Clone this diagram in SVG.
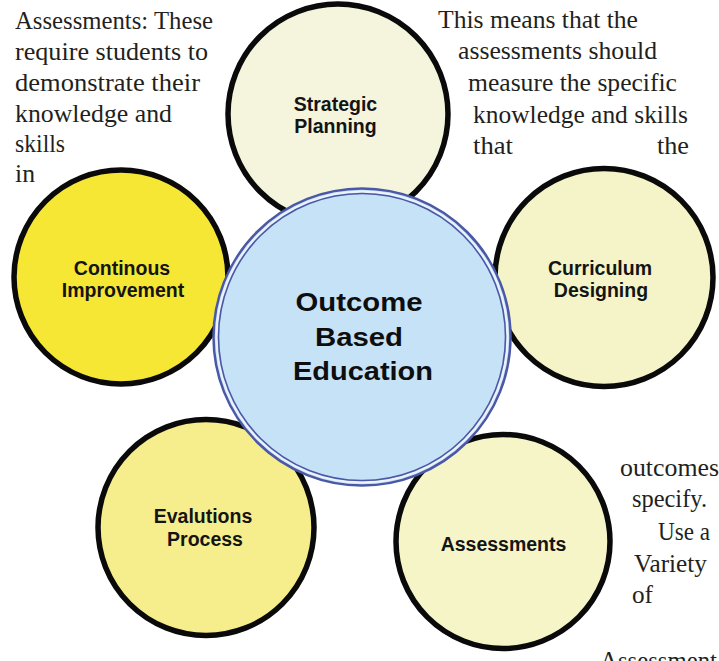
<svg xmlns="http://www.w3.org/2000/svg" width="719" height="661" viewBox="0 0 719 661">
  <style>
    .petal { stroke: #0a0a0a; stroke-width: 5.5; }
    .lbl { font-family: "Liberation Sans", Arial, sans-serif; font-weight: bold; font-size: 19.5px; fill: #141414; text-anchor: middle; }
    .core { font-family: "Liberation Sans", Arial, sans-serif; font-weight: bold; font-size: 26px; fill: #0e0e0e; text-anchor: middle; }
    .body { font-family: "Liberation Serif", "Times New Roman", serif; font-size: 25px; fill: #231f20; }
  </style>
  <rect width="719" height="661" fill="#ffffff"/>

  <g id="text-left" class="body">
    <text x="15" y="29" textLength="198" lengthAdjust="spacingAndGlyphs">Assessments: These</text>
    <text x="15" y="60" textLength="193" lengthAdjust="spacingAndGlyphs">require students to</text>
    <text x="15" y="91" textLength="185" lengthAdjust="spacingAndGlyphs">demonstrate their</text>
    <text x="15" y="122" textLength="157" lengthAdjust="spacingAndGlyphs">knowledge and</text>
    <text x="15" y="152" textLength="50" lengthAdjust="spacingAndGlyphs">skills</text>
    <text x="15" y="182" textLength="20" lengthAdjust="spacingAndGlyphs">in</text>
  </g>

  <g id="text-right" class="body">
    <text x="438" y="28" textLength="200" lengthAdjust="spacingAndGlyphs">This means that the</text>
    <text x="458" y="59" textLength="199" lengthAdjust="spacingAndGlyphs">assessments should</text>
    <text x="468" y="91" textLength="209" lengthAdjust="spacingAndGlyphs">measure the specific</text>
    <text x="473" y="123" textLength="215" lengthAdjust="spacingAndGlyphs">knowledge and skills</text>
    <text x="473" y="154" textLength="40" lengthAdjust="spacingAndGlyphs">that</text>
    <text x="657" y="154" textLength="32" lengthAdjust="spacingAndGlyphs">the</text>
  </g>

  <g id="text-bottom-right" class="body">
    <text x="620" y="476" textLength="99" lengthAdjust="spacingAndGlyphs">outcomes</text>
    <text x="632" y="507" textLength="75" lengthAdjust="spacingAndGlyphs">specify.</text>
    <text x="658" y="540" textLength="52" lengthAdjust="spacingAndGlyphs">Use a</text>
    <text x="634" y="572" textLength="73" lengthAdjust="spacingAndGlyphs">Variety</text>
    <text x="632" y="603" textLength="21" lengthAdjust="spacingAndGlyphs">of</text>
    <text x="600" y="669" textLength="117" lengthAdjust="spacingAndGlyphs">Assessment</text>
  </g>

  <g id="node-strategic-planning">
    <circle class="petal" cx="338" cy="114" r="110" fill="#f4f5dc"/>
    <text class="lbl" x="335.5" y="111">Strategic</text>
    <text class="lbl" x="335.5" y="133">Planning</text>
  </g>

  <g id="node-continous-improvement">
    <circle class="petal" cx="121" cy="277" r="107" fill="#f5e734"/>
    <text class="lbl" x="122" y="275">Continous</text>
    <text class="lbl" x="123" y="297">Improvement</text>
  </g>

  <g id="node-curriculum-designing">
    <circle class="petal" cx="604" cy="277.5" r="109" fill="#f5f4c9"/>
    <text class="lbl" x="600" y="275">Curriculum</text>
    <text class="lbl" x="601" y="297">Designing</text>
  </g>

  <g id="node-evalutions-process">
    <circle class="petal" cx="206" cy="527.5" r="108" fill="#f6ee8c"/>
    <text class="lbl" x="203" y="523">Evalutions</text>
    <text class="lbl" x="205" y="546">Process</text>
  </g>

  <g id="node-assessments">
    <circle class="petal" cx="503" cy="541.5" r="107" fill="#f6f5c7"/>
    <text class="lbl" x="503.5" y="551">Assessments</text>
  </g>

  <g id="node-outcome-based-education">
    <circle cx="362" cy="337" r="148.5" fill="#c6e2f6" stroke="#4a58a6" stroke-width="2.5"/>
    <circle cx="362" cy="337" r="145.5" fill="none" stroke="#eef3fb" stroke-width="2"/>
    <circle cx="362" cy="337" r="143.5" fill="none" stroke="#4a58a6" stroke-width="1.6"/>
    <text class="core" x="359" y="311" textLength="127" lengthAdjust="spacingAndGlyphs">Outcome</text>
    <text class="core" x="359" y="346" textLength="88" lengthAdjust="spacingAndGlyphs">Based</text>
    <text class="core" x="363" y="380" textLength="140" lengthAdjust="spacingAndGlyphs">Education</text>
  </g>

  <g id="connectors"></g>
</svg>
